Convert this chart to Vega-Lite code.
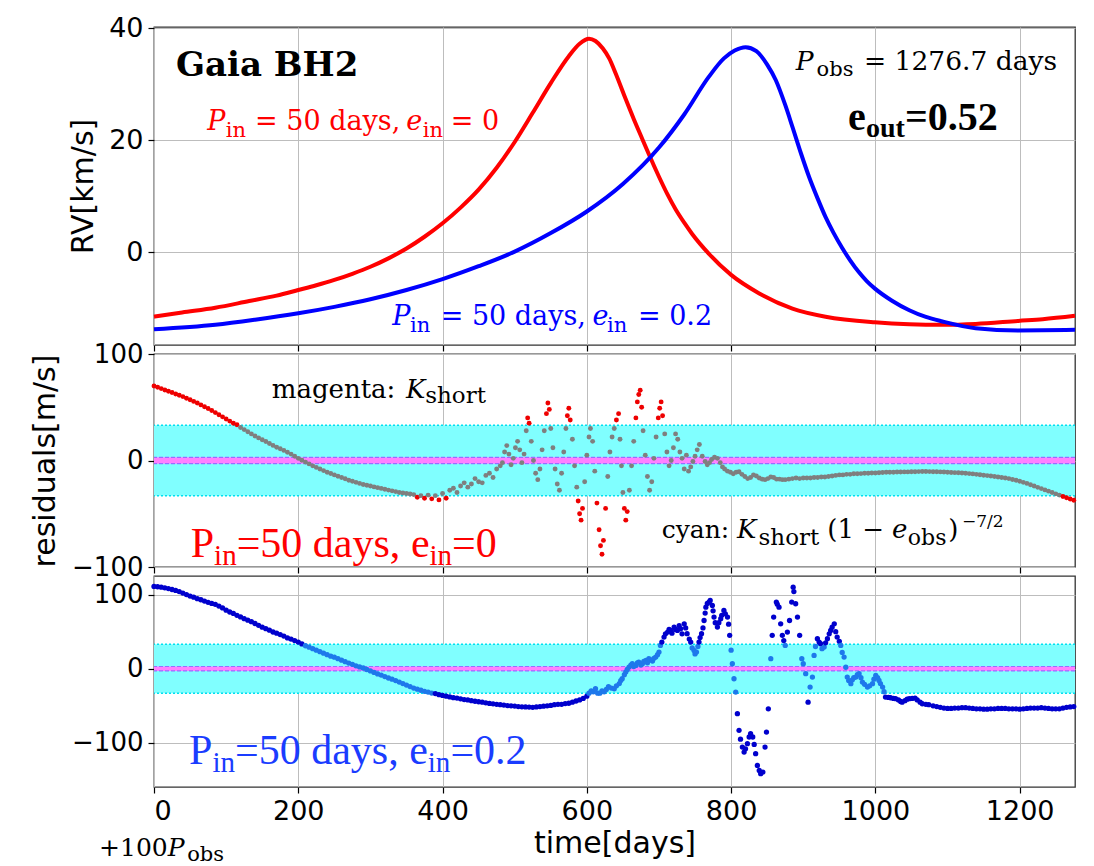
{
  "$schema": "https://vega.github.io/schema/vega-lite/v6.json",
  "background": "white",
  "padding": {"left": 29, "top": 13, "right": 5, "bottom": 0},
  "spacing": 9,
  "bounds": "flush",
  "datasets": {
    "rv": [
      {"s":"a","t":0,"v":-11.45},{"s":"a","t":39,"v":-10.7},{"s":"a","t":85,"v":-9.85},{"s":"a","t":132,"v":-8.66},{"s":"a","t":170,"v":-7.7},{"s":"a","t":200,"v":-6.7},{"s":"a","t":225,"v":-5.85},{"s":"a","t":250,"v":-4.9},{"s":"a","t":275,"v":-3.8},{"s":"a","t":300,"v":-2.55},{"s":"a","t":325,"v":-1.05},{"s":"a","t":350,"v":0.7},{"s":"a","t":375,"v":2.8},{"s":"a","t":400,"v":5.2},{"s":"a","t":425,"v":8},{"s":"a","t":450,"v":11.2},{"s":"a","t":475,"v":15.1},{"s":"a","t":500,"v":19.7},{"s":"a","t":525,"v":24.9},{"s":"a","t":550,"v":30.2},{"s":"a","t":575,"v":35},{"s":"a","t":590,"v":37.2},{"s":"a","t":603,"v":38.1},{"s":"a","t":612,"v":37.7},{"s":"a","t":622,"v":36.4},{"s":"a","t":631,"v":34.6},{"s":"a","t":640,"v":31.9},{"s":"a","t":654,"v":27.3},{"s":"a","t":665,"v":23.8},{"s":"a","t":677,"v":20.2},{"s":"a","t":686,"v":17.5},{"s":"a","t":700,"v":13.5},{"s":"a","t":712,"v":10.3},{"s":"a","t":723,"v":7.7},{"s":"a","t":735,"v":5.3},{"s":"a","t":746,"v":3.3},{"s":"a","t":769,"v":-0.2},{"s":"a","t":800,"v":-4},{"s":"a","t":839,"v":-7.3},{"s":"a","t":885,"v":-10},{"s":"a","t":931,"v":-11.45},{"s":"a","t":999,"v":-12.45},{"s":"a","t":1047,"v":-12.8},{"s":"a","t":1093,"v":-12.9},{"s":"a","t":1139,"v":-12.75},{"s":"a","t":1198,"v":-12.2},{"s":"a","t":1232,"v":-11.9},{"s":"a","t":1276.7,"v":-11.3},
      {"s":"b","t":0,"v":-13.7},{"s":"b","t":85,"v":-12.9},{"s":"b","t":140,"v":-12},{"s":"b","t":200,"v":-10.85},{"s":"b","t":250,"v":-9.7},{"s":"b","t":300,"v":-8.35},{"s":"b","t":350,"v":-6.7},{"s":"b","t":400,"v":-4.75},{"s":"b","t":450,"v":-2.45},{"s":"b","t":500,"v":0.15},{"s":"b","t":550,"v":3.45},{"s":"b","t":600,"v":7.3},{"s":"b","t":650,"v":12.2},{"s":"b","t":700,"v":18.7},{"s":"b","t":735,"v":24.6},{"s":"b","t":769,"v":31.3},{"s":"b","t":790,"v":34.6},{"s":"b","t":805,"v":36},{"s":"b","t":820,"v":36.6},{"s":"b","t":835,"v":35.9},{"s":"b","t":850,"v":33.5},{"s":"b","t":862,"v":30.7},{"s":"b","t":875,"v":26.3},{"s":"b","t":885,"v":22.4},{"s":"b","t":897,"v":17.6},{"s":"b","t":908,"v":13.5},{"s":"b","t":920,"v":9.6},{"s":"b","t":931,"v":6.3},{"s":"b","t":942,"v":3.5},{"s":"b","t":954,"v":0.8},{"s":"b","t":965,"v":-1.4},{"s":"b","t":977,"v":-3.5},{"s":"b","t":988,"v":-5.1},{"s":"b","t":999,"v":-6.4},{"s":"b","t":1023,"v":-8.6},{"s":"b","t":1047,"v":-10.3},{"s":"b","t":1070,"v":-11.5},{"s":"b","t":1093,"v":-12.3},{"s":"b","t":1139,"v":-13.5},{"s":"b","t":1198,"v":-13.9},{"s":"b","t":1276.7,"v":-13.8}
    ],
    "res0": [
      {"t":0,"r":70},{"t":5,"r":68.8},{"t":10,"r":67.5},{"t":15,"r":66.2},{"t":20,"r":65},{"t":25,"r":63.8},{"t":30,"r":62.5},{"t":35,"r":61.2},{"t":40,"r":60},{"t":45,"r":58.5},{"t":50,"r":57},{"t":55,"r":55.5},{"t":60,"r":54},{"t":65,"r":52.2},{"t":70,"r":50.5},{"t":75,"r":48.8},{"t":80,"r":47},{"t":85,"r":45},{"t":90,"r":43},{"t":95,"r":41},{"t":100,"r":39},{"t":105,"r":37},{"t":110,"r":35},{"t":115,"r":33.5},{"t":120,"r":31},{"t":125,"r":29},{"t":130,"r":27},{"t":135,"r":25},{"t":140,"r":23},{"t":145,"r":21.2},{"t":150,"r":19.5},{"t":155,"r":17.8},{"t":160,"r":16},{"t":165,"r":14.2},{"t":170,"r":12.5},{"t":175,"r":11},{"t":180,"r":9.5},{"t":185,"r":7.8},{"t":190,"r":6},{"t":195,"r":4},{"t":200,"r":2},{"t":205,"r":0.2},{"t":210,"r":-1.5},{"t":215,"r":-3.2},{"t":220,"r":-5},{"t":225,"r":-6.5},{"t":230,"r":-8},{"t":235,"r":-9.5},{"t":240,"r":-11},{"t":245,"r":-12.2},{"t":250,"r":-13.5},{"t":255,"r":-14.8},{"t":260,"r":-16},{"t":265,"r":-17.2},{"t":270,"r":-18.5},{"t":275,"r":-19.5},{"t":280,"r":-20.5},{"t":285,"r":-21.5},{"t":290,"r":-22.5},{"t":295,"r":-23.2},{"t":300,"r":-24},{"t":305,"r":-24.8},{"t":310,"r":-25.5},{"t":315,"r":-26.2},{"t":320,"r":-27},{"t":325,"r":-27.8},{"t":330,"r":-28.5},{"t":335,"r":-29.2},{"t":340,"r":-30},{"t":345,"r":-30.5},{"t":350,"r":-31},{"t":355,"r":-31.5},{"t":360,"r":-32},{"t":365,"r":-34.5},{"t":370,"r":-33},{"t":375,"r":-35.5},{"t":380,"r":-32.5},{"t":385,"r":-36},{"t":390,"r":-33},{"t":395,"r":-37},{"t":400,"r":-31},{"t":405,"r":-35.5},{"t":410,"r":-28},{"t":415,"r":-26},{"t":420,"r":-30},{"t":425,"r":-24},{"t":430,"r":-21},{"t":435,"r":-25},{"t":440,"r":-22},{"t":445,"r":-17},{"t":450,"r":-20},{"t":455,"r":-21},{"t":460,"r":-14},{"t":465,"r":-12},{"t":470,"r":-16},{"t":475,"r":-8},{"t":480,"r":-5},
      {"t":483,"r":-2},{"t":486,"r":8},{"t":489,"r":14},{"t":492,"r":6},{"t":495,"r":-4},{"t":498,"r":2},{"t":501,"r":12},{"t":504,"r":18},{"t":507,"r":10},{"t":510,"r":-2},{"t":513,"r":6},{"t":516,"r":28},{"t":518,"r":40},{"t":520,"r":35},{"t":523,"r":18},{"t":526,"r":0},{"t":529,"r":-12},{"t":532,"r":-18},{"t":535,"r":-8},{"t":538,"r":10},{"t":541,"r":28},{"t":544,"r":44},{"t":546,"r":54},{"t":548,"r":48},{"t":550,"r":30},{"t":553,"r":12},{"t":556,"r":-8},{"t":559,"r":-22},{"t":562,"r":-28},{"t":565,"r":-12},{"t":568,"r":8},{"t":571,"r":30},{"t":573,"r":42},{"t":575,"r":49},{"t":577,"r":38},{"t":580,"r":20},{"t":583,"r":-5},{"t":586,"r":-25},{"t":588,"r":-38},{"t":590,"r":-50},{"t":592,"r":-56},{"t":594,"r":-45},{"t":597,"r":-20},{"t":600,"r":5},{"t":603,"r":22},{"t":605,"r":30},{"t":608,"r":18},{"t":611,"r":-10},{"t":614,"r":-40},{"t":617,"r":-65},{"t":619,"r":-80},{"t":621,"r":-88},{"t":623,"r":-75},{"t":626,"r":-45},{"t":629,"r":-15},{"t":632,"r":8},{"t":635,"r":22},{"t":638,"r":30},{"t":641,"r":38},{"t":644,"r":44},{"t":646,"r":20},{"t":648,"r":-5},{"t":650,"r":-30},{"t":652,"r":-45},{"t":654,"r":-56},{"t":656,"r":-48},{"t":659,"r":-28},{"t":662,"r":-5},{"t":665,"r":18},{"t":668,"r":40},{"t":670,"r":55},{"t":672,"r":62},{"t":674,"r":66},{"t":676,"r":50},{"t":678,"r":28},{"t":681,"r":5},{"t":684,"r":-15},{"t":687,"r":-28},{"t":690,"r":-20},{"t":693,"r":2},{"t":696,"r":22},{"t":699,"r":40},{"t":701,"r":49},{"t":703,"r":55},{"t":705,"r":42},{"t":708,"r":25},{"t":711,"r":8},{"t":714,"r":-5},{"t":717,"r":0},{"t":720,"r":12},{"t":723,"r":25},{"t":726,"r":20},{"t":729,"r":8},{"t":732,"r":2},{"t":735,"r":-8},{"t":738,"r":5},
      {"t":741,"r":-10},{"t":744,"r":-6},{"t":747,"r":-1},{"t":750,"r":4},{"t":753,"r":10},{"t":756,"r":15},{"t":760,"r":4},{"t":764,"r":-1},{"t":767,"r":-4},{"t":770,"r":-2},{"t":773,"r":1},{"t":777,"r":3},{"t":781,"r":2},{"t":785,"r":-2},{"t":788,"r":-6},{"t":791,"r":-8},{"t":795,"r":-10},{"t":799,"r":-11},{"t":803,"r":-12.5},{"t":807,"r":-11},{"t":811,"r":-10.5},{"t":815,"r":-13},{"t":819,"r":-15},{"t":823,"r":-17},{"t":827,"r":-16},{"t":831,"r":-13.5},{"t":835,"r":-14.5},{"t":839,"r":-16.5},{"t":843,"r":-17.5},{"t":847,"r":-18},{"t":851,"r":-17},{"t":855,"r":-15.5},{"t":859,"r":-16},{"t":863,"r":-17.5},{"t":867,"r":-17.5},{"t":871,"r":-18},{"t":875,"r":-18},{"t":880,"r":-17.5},{"t":885,"r":-17},{"t":890,"r":-16.5},{"t":895,"r":-17},{"t":900,"r":-16.5},{"t":905,"r":-16.5},{"t":910,"r":-16.5},{"t":915,"r":-16},{"t":920,"r":-16},{"t":925,"r":-15.5},{"t":930,"r":-15.5},{"t":935,"r":-15},{"t":940,"r":-14.5},{"t":945,"r":-14},{"t":950,"r":-13.5},{"t":955,"r":-13.5},{"t":960,"r":-13},{"t":965,"r":-13},{"t":970,"r":-12.5},{"t":975,"r":-12.5},{"t":980,"r":-12.3},{"t":985,"r":-12},{"t":990,"r":-12},{"t":995,"r":-11.8},{"t":1000,"r":-11.8},{"t":1005,"r":-11.5},{"t":1010,"r":-11.3},{"t":1015,"r":-11},{"t":1020,"r":-11},{"t":1025,"r":-11},{"t":1030,"r":-10.8},{"t":1035,"r":-10.8},{"t":1040,"r":-10.7},{"t":1045,"r":-10.7},{"t":1050,"r":-10.6},{"t":1055,"r":-10.5},{"t":1060,"r":-10.4},{"t":1065,"r":-10.3},{"t":1070,"r":-10.3},{"t":1075,"r":-10.4},{"t":1080,"r":-10.5},{"t":1085,"r":-10.6},{"t":1090,"r":-10.7},{"t":1095,"r":-10.8},{"t":1100,"r":-11},{"t":1105,"r":-11.2},{"t":1110,"r":-11.4},{"t":1115,"r":-11.5},{"t":1120,"r":-11.8},{"t":1125,"r":-12},{"t":1130,"r":-12.3},{"t":1135,"r":-12.6},{"t":1140,"r":-13},{"t":1145,"r":-13.4},{"t":1150,"r":-13.8},{"t":1155,"r":-14.2},{"t":1160,"r":-14.6},{"t":1165,"r":-15},{"t":1170,"r":-15.5},{"t":1175,"r":-16},{"t":1180,"r":-16.5},{"t":1185,"r":-17},{"t":1190,"r":-17.8},{"t":1195,"r":-18.6},{"t":1200,"r":-19.5},{"t":1205,"r":-20.5},{"t":1210,"r":-21.5},{"t":1215,"r":-22.8},{"t":1220,"r":-24},{"t":1225,"r":-25.2},{"t":1230,"r":-26.4},{"t":1235,"r":-27.6},{"t":1240,"r":-28.8},{"t":1245,"r":-30},{"t":1250,"r":-31.3},{"t":1255,"r":-32.5},{"t":1260,"r":-33.8},{"t":1265,"r":-35},{"t":1270,"r":-36.2},{"t":1275,"r":-37.3}
    ],
    "res2": [
      {"t":0,"r":111},{"t":5,"r":110.5},{"t":10,"r":110},{"t":15,"r":109},{"t":20,"r":108},{"t":25,"r":106.8},{"t":30,"r":105.5},{"t":35,"r":104},{"t":40,"r":102},{"t":45,"r":100},{"t":50,"r":98},{"t":55,"r":96.5},{"t":60,"r":94.5},{"t":65,"r":93},{"t":70,"r":91.2},{"t":75,"r":89.5},{"t":80,"r":88},{"t":85,"r":86.8},{"t":90,"r":84.5},{"t":95,"r":82},{"t":100,"r":79},{"t":105,"r":76.5},{"t":110,"r":74.5},{"t":115,"r":72},{"t":120,"r":69.8},{"t":125,"r":67.5},{"t":130,"r":65.5},{"t":135,"r":63.5},{"t":140,"r":61},{"t":145,"r":58.5},{"t":150,"r":56},{"t":155,"r":54},{"t":160,"r":52},{"t":165,"r":49.5},{"t":170,"r":48},{"t":175,"r":46},{"t":180,"r":44},{"t":185,"r":41.5},{"t":190,"r":40},{"t":195,"r":38},{"t":200,"r":36},{"t":205,"r":33.5},{"t":210,"r":31},{"t":215,"r":29},{"t":220,"r":27},{"t":225,"r":25},{"t":230,"r":23},{"t":235,"r":21},{"t":240,"r":19},{"t":245,"r":17},{"t":250,"r":15.6},{"t":255,"r":13.5},{"t":260,"r":11.5},{"t":265,"r":9.5},{"t":270,"r":7.6},{"t":275,"r":6},{"t":280,"r":4},{"t":285,"r":2.5},{"t":290,"r":1},{"t":295,"r":-1},{"t":300,"r":-3},{"t":305,"r":-5},{"t":310,"r":-7},{"t":315,"r":-8.5},{"t":320,"r":-10.5},{"t":325,"r":-12.5},{"t":330,"r":-14},{"t":335,"r":-16},{"t":340,"r":-18},{"t":345,"r":-20},{"t":350,"r":-22},{"t":355,"r":-24},{"t":360,"r":-26},{"t":365,"r":-27.5},{"t":370,"r":-29},{"t":375,"r":-30.5},{"t":380,"r":-31.5},{"t":385,"r":-32.8},{"t":390,"r":-33.5},{"t":395,"r":-35},{"t":400,"r":-36},{"t":405,"r":-37},{"t":410,"r":-38},{"t":415,"r":-39},{"t":420,"r":-39.5},{"t":425,"r":-40.5},{"t":430,"r":-41.5},{"t":435,"r":-42},{"t":440,"r":-43},{"t":445,"r":-43.8},{"t":450,"r":-44.5},{"t":455,"r":-45},{"t":460,"r":-46},{"t":465,"r":-46.8},{"t":470,"r":-47.3},{"t":475,"r":-48},{"t":480,"r":-48.5},{"t":485,"r":-49},{"t":490,"r":-49.7},{"t":495,"r":-50},{"t":500,"r":-50.3},{"t":505,"r":-51},{"t":510,"r":-51.3},{"t":515,"r":-51.5},{"t":520,"r":-51.7},{"t":525,"r":-52},{"t":530,"r":-51.5},{"t":535,"r":-51},{"t":540,"r":-50.5},{"t":545,"r":-50},{"t":550,"r":-49.5},{"t":555,"r":-48.5},{"t":560,"r":-48},{"t":565,"r":-48},{"t":570,"r":-47},{"t":575,"r":-46.5},{"t":580,"r":-45},{"t":585,"r":-43.5},{"t":590,"r":-42},{"t":595,"r":-40},{"t":600,"r":-37},
      {"t":603,"r":-33},{"t":606,"r":-30},{"t":609,"r":-31},{"t":612,"r":-27},{"t":615,"r":-33},{"t":618,"r":-33},{"t":621,"r":-30},{"t":624,"r":-31},{"t":627,"r":-28},{"t":630,"r":-24},{"t":634,"r":-26},{"t":638,"r":-27},{"t":641,"r":-23},{"t":645,"r":-20},{"t":647,"r":-16},{"t":649,"r":-13.5},{"t":652,"r":-8},{"t":654,"r":-4.5},{"t":656,"r":-1},{"t":658.5,"r":2.2},{"t":661,"r":5},{"t":663,"r":6.7},{"t":665,"r":3},{"t":668,"r":4.5},{"t":670,"r":8},{"t":672,"r":9},{"t":675,"r":5},{"t":677,"r":6.7},{"t":679,"r":10},{"t":682,"r":11.2},{"t":684,"r":8},{"t":686,"r":13.5},{"t":688,"r":12},{"t":691,"r":10.3},{"t":693,"r":14},{"t":695.5,"r":15.7},{"t":698,"r":19},{"t":700,"r":22.5},{"t":702,"r":31.4},{"t":704,"r":36},{"t":707,"r":42.7},{"t":709,"r":47},{"t":712,"r":49.4},{"t":714,"r":53},{"t":716,"r":51.7},{"t":718,"r":48},{"t":721,"r":56.2},{"t":723,"r":53},{"t":725.5,"r":51.7},{"t":728,"r":58},{"t":730,"r":53.9},{"t":732,"r":47},{"t":735,"r":60.6},{"t":737,"r":55},{"t":739,"r":47.2},{"t":742,"r":40},{"t":744,"r":36},{"t":746,"r":28},{"t":748.6,"r":24.7},{"t":750,"r":20},{"t":752,"r":22.5},{"t":754,"r":30},{"t":755.5,"r":36},{"t":757,"r":42},{"t":759,"r":47.2},{"t":761,"r":55},{"t":762.5,"r":65},{"t":764,"r":75},{"t":765,"r":83},{"t":767,"r":88},{"t":769.4,"r":89.8},{"t":771,"r":92},{"t":774,"r":85.3},{"t":775,"r":78},{"t":776.3,"r":69.6},{"t":778,"r":62},{"t":781,"r":56.2},{"t":783,"r":62},{"t":785.6,"r":67.4},{"t":787,"r":72},{"t":790,"r":78.6},{"t":792,"r":74},{"t":795,"r":69.6},{"t":796.5,"r":60},{"t":798,"r":45},{"t":800,"r":25},{"t":801.7,"r":6.7},{"t":804,"r":-13.5},{"t":806.4,"r":-31.4},{"t":808.7,"r":-60.6},{"t":811,"r":-83},{"t":813,"r":-95},{"t":815.6,"r":-105.6},{"t":818,"r":-112.3},{"t":820,"r":-108},{"t":822.6,"r":-101},{"t":825,"r":-92},{"t":827,"r":-87.6},{"t":830,"r":-92},{"t":832,"r":-102},{"t":834,"r":-114.5},{"t":836.4,"r":-130.3},{"t":839,"r":-137},{"t":841,"r":-141.5},{"t":844,"r":-139.3},{"t":847,"r":-105.6},{"t":849,"r":-85.4},{"t":851.6,"r":-54},{"t":855,"r":13.5},{"t":857,"r":45},{"t":859,"r":69.6},{"t":862.7,"r":89.8},{"t":864,"r":87},{"t":866.4,"r":83},{"t":868.7,"r":60.6},{"t":871,"r":45},{"t":873,"r":38},{"t":875,"r":31.4},{"t":878,"r":49.4},{"t":881,"r":65},{"t":884,"r":89.8},{"t":886,"r":110},{"t":887,"r":104},{"t":889.5,"r":87.6},{"t":892,"r":69.6},{"t":895,"r":45},{"t":898,"r":13.5},{"t":900,"r":6.7},{"t":903.4,"r":-6.7},{"t":906.7,"r":-45},{"t":909.5,"r":-24.7},{"t":912.7,"r":-11.2},{"t":915,"r":18},{"t":917,"r":30},{"t":919.6,"r":40.4},{"t":922,"r":36},{"t":924,"r":33.7},{"t":926,"r":27},{"t":929,"r":29.2},{"t":931,"r":35},{"t":933.5,"r":40.4},{"t":936,"r":47},{"t":938,"r":51.7},{"t":940,"r":56},{"t":943,"r":60.6},{"t":945,"r":50},{"t":947,"r":42.7},{"t":950,"r":37},{"t":952,"r":31.4},{"t":954,"r":22},{"t":956.6,"r":15.7},{"t":959,"r":2},{"t":961,"r":-11.2},{"t":963,"r":-16},{"t":966,"r":-20.2},{"t":968,"r":-15},{"t":970,"r":-12},{"t":973,"r":-11.2},{"t":975,"r":-8},{"t":977.4,"r":-6.7},{"t":980,"r":-12},{"t":982,"r":-18},{"t":985,"r":-21},{"t":989,"r":-24.7},{"t":992,"r":-23},{"t":996,"r":-20.2},{"t":998,"r":-14},{"t":1000.5,"r":-9},{"t":1003,"r":-12},{"t":1005,"r":-15.7},{"t":1007,"r":-20},{"t":1010,"r":-24.7},{"t":1012,"r":-31},{"t":1014,"r":-38.2},{"t":1018,"r":-38.6},{"t":1021,"r":-39.1},{"t":1025,"r":-40},{"t":1028,"r":-40.4},{"t":1032,"r":-42},{"t":1035,"r":-44},{"t":1037,"r":-45},{"t":1041,"r":-43},{"t":1044,"r":-41},{"t":1047,"r":-40.4},{"t":1051,"r":-40},{"t":1055,"r":-39.5},{"t":1058,"r":-42},{"t":1062,"r":-45},{"t":1065,"r":-47.2},{"t":1070,"r":-48},{"t":1074,"r":-48.5},{"t":1080,"r":-50},{"t":1085,"r":-51},{"t":1090,"r":-52},{"t":1095,"r":-53},
      {"t":1100,"r":-53.5},{"t":1105,"r":-53.5},{"t":1110,"r":-53},{"t":1115,"r":-53},{"t":1120,"r":-52.5},{"t":1125,"r":-52.5},{"t":1130,"r":-53},{"t":1135,"r":-53.5},{"t":1140,"r":-54},{"t":1145,"r":-54},{"t":1150,"r":-54.5},{"t":1155,"r":-54.5},{"t":1160,"r":-54},{"t":1165,"r":-54},{"t":1170,"r":-53.5},{"t":1175,"r":-53.5},{"t":1180,"r":-53.5},{"t":1185,"r":-54},{"t":1190,"r":-54},{"t":1195,"r":-54},{"t":1200,"r":-54.5},{"t":1205,"r":-54},{"t":1210,"r":-53.5},{"t":1215,"r":-53},{"t":1220,"r":-53},{"t":1225,"r":-53},{"t":1230,"r":-52.5},{"t":1235,"r":-53},{"t":1240,"r":-53.5},{"t":1245,"r":-54},{"t":1250,"r":-54},{"t":1255,"r":-54},{"t":1260,"r":-53},{"t":1265,"r":-52},{"t":1270,"r":-51.5},{"t":1275,"r":-51}
    ]
  },
  "vconcat": [
    {
      "width": 921,
      "height": 318,
      "layer": [
        {
          "data": {"name": "rv"},
          "mark": {"type": "line", "strokeWidth": 4, "interpolate": "monotone"},
          "encoding": {
            "x": {"field": "t", "type": "quantitative", "scale": {"domain": [0, 1276.7], "nice": false, "zero": false}, "axis": {"values": [0, 200, 400, 600, 800, 1000, 1200], "labels": false, "title": null, "grid": true}},
            "y": {"field": "v", "type": "quantitative", "scale": {"domain": [-16.5, 40.2], "nice": false, "zero": false}, "axis": {"values": [0, 20, 40], "title": "RV[km/s]", "grid": true, "titlePadding": 10}},
            "color": {"field": "s", "type": "nominal", "scale": {"domain": ["a", "b"], "range": ["#ff0000", "#0000ff"]}, "legend": null}
          }
        },
        {"data": {"values": [{}]}, "mark": {"type": "text", "text": "Gaia BH2", "font": "DejaVu Serif", "fontWeight": "bold", "fontSize": 34, "color": "#000", "align": "left", "baseline": "alphabetic"}, "encoding": {"x": {"datum": 30.5}, "y": {"datum": 31.5}}},
        {"data": {"values": [{}]}, "mark": {"type": "text", "text": "P", "font": "DejaVu Serif", "fontStyle": "italic", "fontSize": 27, "color": "#ff0000", "align": "left", "baseline": "alphabetic"}, "encoding": {"x": {"datum": 73.9}, "y": {"datum": 21.76}}},
        {"data": {"values": [{}]}, "mark": {"type": "text", "text": "in", "font": "DejaVu Serif", "fontSize": 21, "color": "#ff0000", "align": "left", "baseline": "alphabetic"}, "encoding": {"x": {"datum": 99.5}, "y": {"datum": 20.6}}},
        {"data": {"values": [{}]}, "mark": {"type": "text", "text": "= 50 days,", "font": "DejaVu Serif", "fontSize": 27, "color": "#ff0000", "align": "left", "baseline": "alphabetic"}, "encoding": {"x": {"datum": 140}, "y": {"datum": 21.76}}},
        {"data": {"values": [{}]}, "mark": {"type": "text", "text": "e", "font": "DejaVu Serif", "fontStyle": "italic", "fontSize": 27, "color": "#ff0000", "align": "left", "baseline": "alphabetic"}, "encoding": {"x": {"datum": 349.7}, "y": {"datum": 21.76}}},
        {"data": {"values": [{}]}, "mark": {"type": "text", "text": "in", "font": "DejaVu Serif", "fontSize": 21, "color": "#ff0000", "align": "left", "baseline": "alphabetic"}, "encoding": {"x": {"datum": 372.5}, "y": {"datum": 20.6}}},
        {"data": {"values": [{}]}, "mark": {"type": "text", "text": "= 0", "font": "DejaVu Serif", "fontSize": 27, "color": "#ff0000", "align": "left", "baseline": "alphabetic"}, "encoding": {"x": {"datum": 411.3}, "y": {"datum": 21.76}}},
        {"data": {"values": [{}]}, "mark": {"type": "text", "text": "P", "font": "DejaVu Serif", "fontStyle": "italic", "fontSize": 27, "color": "#0000ff", "align": "left", "baseline": "alphabetic"}, "encoding": {"x": {"datum": 330.3}, "y": {"datum": -12.94}}},
        {"data": {"values": [{}]}, "mark": {"type": "text", "text": "in", "font": "DejaVu Serif", "fontSize": 21, "color": "#0000ff", "align": "left", "baseline": "alphabetic"}, "encoding": {"x": {"datum": 355}, "y": {"datum": -14.1}}},
        {"data": {"values": [{}]}, "mark": {"type": "text", "text": "= 50 days,", "font": "DejaVu Serif", "fontSize": 27, "color": "#0000ff", "align": "left", "baseline": "alphabetic"}, "encoding": {"x": {"datum": 397.4}, "y": {"datum": -12.94}}},
        {"data": {"values": [{}]}, "mark": {"type": "text", "text": "e", "font": "DejaVu Serif", "fontStyle": "italic", "fontSize": 27, "color": "#0000ff", "align": "left", "baseline": "alphabetic"}, "encoding": {"x": {"datum": 607.7}, "y": {"datum": -12.94}}},
        {"data": {"values": [{}]}, "mark": {"type": "text", "text": "in", "font": "DejaVu Serif", "fontSize": 21, "color": "#0000ff", "align": "left", "baseline": "alphabetic"}, "encoding": {"x": {"datum": 628}, "y": {"datum": -14.1}}},
        {"data": {"values": [{}]}, "mark": {"type": "text", "text": "= 0.2", "font": "DejaVu Serif", "fontSize": 27, "color": "#0000ff", "align": "left", "baseline": "alphabetic"}, "encoding": {"x": {"datum": 670.9}, "y": {"datum": -12.94}}},
        {"data": {"values": [{}]}, "mark": {"type": "text", "text": "P", "font": "DejaVu Serif", "fontStyle": "italic", "fontSize": 26.5, "color": "#000", "align": "left", "baseline": "alphabetic"}, "encoding": {"x": {"datum": 889.5}, "y": {"datum": 32.5}}},
        {"data": {"values": [{}]}, "mark": {"type": "text", "text": "obs", "font": "DejaVu Serif", "fontSize": 21, "color": "#000", "align": "left", "baseline": "alphabetic"}, "encoding": {"x": {"datum": 918.5}, "y": {"datum": 31.4}}},
        {"data": {"values": [{}]}, "mark": {"type": "text", "text": "= 1276.7 days", "font": "DejaVu Serif", "fontSize": 26.5, "color": "#000", "align": "left", "baseline": "alphabetic"}, "encoding": {"x": {"datum": 984.2}, "y": {"datum": 32.5}}},
        {"data": {"values": [{}]}, "mark": {"type": "text", "text": "e", "font": "Liberation Serif", "fontWeight": "bold", "fontSize": 40, "color": "#000", "align": "left", "baseline": "alphabetic"}, "encoding": {"x": {"datum": 962.1}, "y": {"datum": 21.9}}},
        {"data": {"values": [{}]}, "mark": {"type": "text", "text": "out", "font": "Liberation Serif", "fontWeight": "bold", "fontSize": 28, "color": "#000", "align": "left", "baseline": "alphabetic"}, "encoding": {"x": {"datum": 987}, "y": {"datum": 20.6}}},
        {"data": {"values": [{}]}, "mark": {"type": "text", "text": "=0.52", "font": "Liberation Serif", "fontWeight": "bold", "fontSize": 40, "color": "#000", "align": "left", "baseline": "alphabetic"}, "encoding": {"x": {"datum": 1041}, "y": {"datum": 21.9}}}
      ]
    },
    {
      "width": 921,
      "height": 213,
      "layer": [
        {
          "data": {"values": [{}]},
          "mark": {"type": "rect", "color": "#80ffff"},
          "encoding": {
            "x": {"datum": 0, "type": "quantitative", "scale": {"domain": [0, 1276.7], "nice": false, "zero": false}, "axis": {"values": [0, 200, 400, 600, 800, 1000, 1200], "labels": false, "title": null, "grid": true}},
            "x2": {"datum": 1276.7},
            "y": {"datum": -33, "type": "quantitative", "scale": {"domain": [-100, 100], "nice": false, "zero": false}, "axis": {"values": [-100, 0, 100], "labelFontSize": 26, "title": "residuals[m/s]", "grid": true, "titlePadding": 11}},
            "y2": {"datum": 33}
          }
        },
        {"data": {"values": [{}]}, "mark": {"type": "rule", "color": "#00e0f0", "strokeWidth": 1.5, "strokeDash": [2, 2]}, "encoding": {"y": {"datum": 33}}},
        {"data": {"values": [{}]}, "mark": {"type": "rule", "color": "#00e0f0", "strokeWidth": 1.5, "strokeDash": [2, 2]}, "encoding": {"y": {"datum": -33}}},
        {"data": {"values": [{}]}, "mark": {"type": "rect", "color": "#ff80ff"}, "encoding": {"x": {"datum": 0}, "x2": {"datum": 1276.7}, "y": {"datum": -3}, "y2": {"datum": 3}}},
        {"data": {"values": [{}]}, "mark": {"type": "rule", "color": "#9a6cff", "strokeWidth": 1.2, "strokeDash": [4, 2]}, "encoding": {"y": {"datum": 3}}},
        {"data": {"values": [{}]}, "mark": {"type": "rule", "color": "#9a6cff", "strokeWidth": 1.2, "strokeDash": [4, 2]}, "encoding": {"y": {"datum": -3}}},
        {
          "data": {"name": "res0"},
          "mark": {"type": "circle", "size": 24, "opacity": 1},
          "encoding": {
            "x": {"field": "t", "type": "quantitative"},
            "y": {"field": "r", "type": "quantitative"},
            "color": {"condition": {"test": "abs(datum.r) > 33", "value": "#ee0000"}, "value": "#7f7f7f"}
          }
        },
        {"data": {"values": [{}]}, "mark": {"type": "text", "text": "magenta:", "font": "DejaVu Serif", "fontSize": 26, "color": "#000", "align": "left", "baseline": "alphabetic"}, "encoding": {"x": {"datum": 163.2}, "y": {"datum": 58.6}}},
        {"data": {"values": [{}]}, "mark": {"type": "text", "text": "K", "font": "DejaVu Serif", "fontStyle": "italic", "fontSize": 26, "color": "#000", "align": "left", "baseline": "alphabetic"}, "encoding": {"x": {"datum": 349.3}, "y": {"datum": 58.6}}},
        {"data": {"values": [{}]}, "mark": {"type": "text", "text": "short", "font": "DejaVu Serif", "fontSize": 23, "color": "#000", "align": "left", "baseline": "alphabetic"}, "encoding": {"x": {"datum": 376}, "y": {"datum": 53.9}}},
        {"data": {"values": [{}]}, "mark": {"type": "text", "text": "cyan:", "font": "DejaVu Serif", "fontSize": 25, "color": "#000", "align": "left", "baseline": "alphabetic"}, "encoding": {"x": {"datum": 703.7}, "y": {"datum": -73.1}}},
        {"data": {"values": [{}]}, "mark": {"type": "text", "text": "K", "font": "DejaVu Serif", "fontStyle": "italic", "fontSize": 26, "color": "#000", "align": "left", "baseline": "alphabetic"}, "encoding": {"x": {"datum": 808}, "y": {"datum": -73.1}}},
        {"data": {"values": [{}]}, "mark": {"type": "text", "text": "short", "font": "DejaVu Serif", "fontSize": 23, "color": "#000", "align": "left", "baseline": "alphabetic"}, "encoding": {"x": {"datum": 838}, "y": {"datum": -79.4}}},
        {"data": {"values": [{}]}, "mark": {"type": "text", "text": "(1 −", "font": "DejaVu Serif", "fontSize": 26, "color": "#000", "align": "left", "baseline": "alphabetic"}, "encoding": {"x": {"datum": 933.3}, "y": {"datum": -73.1}}},
        {"data": {"values": [{}]}, "mark": {"type": "text", "text": "e", "font": "DejaVu Serif", "fontStyle": "italic", "fontSize": 26, "color": "#000", "align": "left", "baseline": "alphabetic"}, "encoding": {"x": {"datum": 1023}, "y": {"datum": -73.1}}},
        {"data": {"values": [{}]}, "mark": {"type": "text", "text": "obs", "font": "DejaVu Serif", "fontSize": 22, "color": "#000", "align": "left", "baseline": "alphabetic"}, "encoding": {"x": {"datum": 1045}, "y": {"datum": -79.4}}},
        {"data": {"values": [{}]}, "mark": {"type": "text", "text": ")", "font": "DejaVu Serif", "fontSize": 26, "color": "#000", "align": "left", "baseline": "alphabetic"}, "encoding": {"x": {"datum": 1101}, "y": {"datum": -73.1}}},
        {"data": {"values": [{}]}, "mark": {"type": "text", "text": "−7/2", "font": "DejaVu Serif", "fontSize": 17, "color": "#000", "align": "left", "baseline": "alphabetic"}, "encoding": {"x": {"datum": 1120}, "y": {"datum": -62.1}}},
        {"data": {"values": [{}]}, "mark": {"type": "text", "text": "P", "font": "Liberation Serif", "fontSize": 42, "color": "#ff0000", "align": "left", "baseline": "alphabetic"}, "encoding": {"x": {"datum": 50.9}, "y": {"datum": -90.3}}},
        {"data": {"values": [{}]}, "mark": {"type": "text", "text": "in", "font": "Liberation Serif", "fontSize": 29, "color": "#ff0000", "align": "left", "baseline": "alphabetic"}, "encoding": {"x": {"datum": 83.3}, "y": {"datum": -98.2}}},
        {"data": {"values": [{}]}, "mark": {"type": "text", "text": "=50 days,", "font": "Liberation Serif", "fontSize": 42, "color": "#ff0000", "align": "left", "baseline": "alphabetic"}, "encoding": {"x": {"datum": 114.6}, "y": {"datum": -90.3}}},
        {"data": {"values": [{}]}, "mark": {"type": "text", "text": "e", "font": "Liberation Serif", "fontSize": 42, "color": "#ff0000", "align": "left", "baseline": "alphabetic"}, "encoding": {"x": {"datum": 356.1}, "y": {"datum": -90.3}}},
        {"data": {"values": [{}]}, "mark": {"type": "text", "text": "in", "font": "Liberation Serif", "fontSize": 29, "color": "#ff0000", "align": "left", "baseline": "alphabetic"}, "encoding": {"x": {"datum": 381.9}, "y": {"datum": -98.2}}},
        {"data": {"values": [{}]}, "mark": {"type": "text", "text": "=0", "font": "Liberation Serif", "fontSize": 42, "color": "#ff0000", "align": "left", "baseline": "alphabetic"}, "encoding": {"x": {"datum": 413.2}, "y": {"datum": -90.3}}}
      ]
    },
    {
      "width": 921,
      "height": 211,
      "layer": [
        {
          "data": {"values": [{}]},
          "mark": {"type": "rect", "color": "#80ffff"},
          "encoding": {
            "x": {"datum": 0, "type": "quantitative", "scale": {"domain": [0, 1276.7], "nice": false, "zero": false}, "axis": {"values": [0, 200, 400, 600, 800, 1000, 1200], "format": "d", "title": "time[days]", "grid": true, "titlePadding": 4}},
            "x2": {"datum": 1276.7},
            "y": {"datum": -33, "type": "quantitative", "scale": {"domain": [-159.4, 125], "nice": false, "zero": false}, "axis": {"values": [-100, 0, 100], "labelFontSize": 26, "title": null, "grid": true}},
            "y2": {"datum": 33}
          }
        },
        {"data": {"values": [{}]}, "mark": {"type": "rule", "color": "#00e0f0", "strokeWidth": 1.5, "strokeDash": [2, 2]}, "encoding": {"y": {"datum": 33}}},
        {"data": {"values": [{}]}, "mark": {"type": "rule", "color": "#00e0f0", "strokeWidth": 1.5, "strokeDash": [2, 2]}, "encoding": {"y": {"datum": -33}}},
        {"data": {"values": [{}]}, "mark": {"type": "rect", "color": "#ff80ff"}, "encoding": {"x": {"datum": 0}, "x2": {"datum": 1276.7}, "y": {"datum": -3}, "y2": {"datum": 3}}},
        {"data": {"values": [{}]}, "mark": {"type": "rule", "color": "#9a6cff", "strokeWidth": 1.2, "strokeDash": [4, 2]}, "encoding": {"y": {"datum": 3}}},
        {"data": {"values": [{}]}, "mark": {"type": "rule", "color": "#9a6cff", "strokeWidth": 1.2, "strokeDash": [4, 2]}, "encoding": {"y": {"datum": -3}}},
        {
          "data": {"name": "res2"},
          "mark": {"type": "circle", "size": 28, "opacity": 1},
          "encoding": {
            "x": {"field": "t", "type": "quantitative"},
            "y": {"field": "r", "type": "quantitative"},
            "color": {"condition": {"test": "abs(datum.r) > 33", "value": "#0000cd"}, "value": "#1e78eb"}
          }
        },
        {"data": {"values": [{}]}, "mark": {"type": "text", "text": "P", "font": "Liberation Serif", "fontSize": 42, "color": "#1a3cff", "align": "left", "baseline": "alphabetic"}, "encoding": {"x": {"datum": 48.5}, "y": {"datum": -128}}},
        {"data": {"values": [{}]}, "mark": {"type": "text", "text": "in", "font": "Liberation Serif", "fontSize": 29, "color": "#1a3cff", "align": "left", "baseline": "alphabetic"}, "encoding": {"x": {"datum": 81}, "y": {"datum": -138.8}}},
        {"data": {"values": [{}]}, "mark": {"type": "text", "text": "=50 days,", "font": "Liberation Serif", "fontSize": 42, "color": "#1a3cff", "align": "left", "baseline": "alphabetic"}, "encoding": {"x": {"datum": 112.3}, "y": {"datum": -128}}},
        {"data": {"values": [{}]}, "mark": {"type": "text", "text": "e", "font": "Liberation Serif", "fontSize": 42, "color": "#1a3cff", "align": "left", "baseline": "alphabetic"}, "encoding": {"x": {"datum": 353.8}, "y": {"datum": -128}}},
        {"data": {"values": [{}]}, "mark": {"type": "text", "text": "in", "font": "Liberation Serif", "fontSize": 29, "color": "#1a3cff", "align": "left", "baseline": "alphabetic"}, "encoding": {"x": {"datum": 379.5}, "y": {"datum": -138.8}}},
        {"data": {"values": [{}]}, "mark": {"type": "text", "text": "=0.2", "font": "Liberation Serif", "fontSize": 42, "color": "#1a3cff", "align": "left", "baseline": "alphabetic"}, "encoding": {"x": {"datum": 410.9}, "y": {"datum": -128}}},
        {"data": {"values": [{}]}, "mark": {"type": "text", "text": "+100", "font": "DejaVu Serif", "fontSize": 25, "color": "#000", "align": "left", "baseline": "alphabetic"}, "encoding": {"x": {"datum": -76.2}, "y": {"datum": -252}}},
        {"data": {"values": [{}]}, "mark": {"type": "text", "text": "P", "font": "DejaVu Serif", "fontStyle": "italic", "fontSize": 25, "color": "#000", "align": "left", "baseline": "alphabetic"}, "encoding": {"x": {"datum": 18.9}, "y": {"datum": -252}}},
        {"data": {"values": [{}]}, "mark": {"type": "text", "text": "obs", "font": "DejaVu Serif", "fontSize": 21, "color": "#000", "align": "left", "baseline": "alphabetic"}, "encoding": {"x": {"datum": 46}, "y": {"datum": -258.8}}}
      ]
    }
  ],
  "config": {
    "view": {"stroke": "#333333", "strokeWidth": 1.3},
    "axis": {
      "labelFont": "DejaVu Sans",
      "labelFontSize": 27,
      "labelColor": "#000",
      "titleFont": "DejaVu Sans",
      "titleFontSize": 30,
      "titleFontWeight": "normal",
      "titleColor": "#000",
      "tickColor": "#000",
      "tickSize": 6,
      "tickWidth": 1.2,
      "labelPadding": 5,
      "domain": false,
      "gridColor": "#bdbdbd",
      "gridWidth": 1
    }
  }
}
